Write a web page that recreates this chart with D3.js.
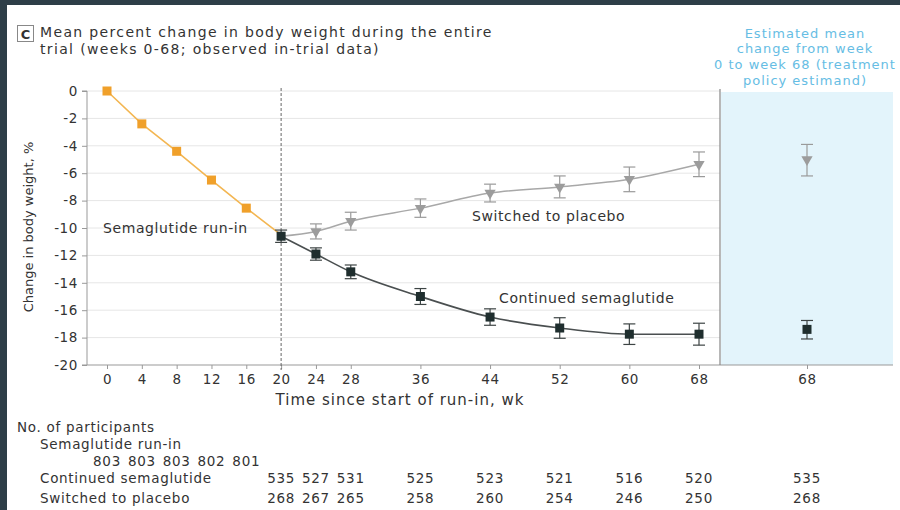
<!DOCTYPE html>
<html>
<head>
<meta charset="utf-8">
<script src="https://cdn.jsdelivr.net/npm/d3@7"></script>
<style>
  html, body { margin: 0; padding: 0; background: #fff; }
  svg { display: block; }
  text { font-family: "DejaVu Sans", Verdana, sans-serif; fill: #333; }
</style>
</head>
<body>
<svg id="chart" width="900" height="510"></svg>
<script>
// Run-in phase (all participants on semaglutide)
const runWeeks = [0, 4, 8, 12, 16, 20];
const runInMean = [0, -2.4, -4.4, -6.5, -8.55, -10.5];

// Randomized phase, weeks 20-68
const trialWeeks = [20, 24, 28, 36, 44, 52, 60, 68];
const contMean = [-10.6, -11.9, -13.2, -15.0, -16.5, -17.3, -17.75, -17.75];
const contErr = [0.45, 0.45, 0.5, 0.58, 0.6, 0.75, 0.75, 0.8];
const placMean = [-10.6, -10.25, -9.5, -8.55, -7.45, -7.0, -6.45, -5.35];
const placErr = [0.45, 0.55, 0.65, 0.67, 0.65, 0.8, 0.9, 0.9];

// Treatment policy estimand, week 0 to week 68
const estLabel = ["68"];
const estCont = { mean: -17.4, lo: -18.1, hi: -16.75 };
const estPlac = { mean: -5.0, lo: -6.2, hi: -3.9 };

// Axis ticks
const xTicks = [0, 4, 8, 12, 16, 20, 24, 28, 36, 44, 52, 60, 68];
const yTicks = [0, -2, -4, -6, -8, -10, -12, -14, -16, -18, -20];

// Numbers at risk
const nRunIn = [803, 803, 803, 802, 801];
const nCont = [535, 527, 531, 525, 523, 521, 516, 520];
const nPlac = [268, 267, 265, 258, 260, 254, 246, 250];
const nEst = { cont: 535, plac: 268 };

const svg = d3.select("#chart");

const x = d3.scaleLinear().domain([0, 68]).range([107, 699]);
const y = d3.scaleLinear().domain([-20, 0]).range([365, 91]);
const xEst = d3.scalePoint().domain(estLabel).range([721, 893]).padding(0.5);

const plotLeft = 87, plotRight = 720, panelRight = 893;

// frame edges
svg.append("rect").attr("x", 0).attr("y", 0).attr("width", 900).attr("height", 5).attr("fill", "#2e3e48");
svg.append("rect").attr("x", 0).attr("y", 0).attr("width", 7).attr("height", 510).attr("fill", "#2e3e48");

// estimand panel background
svg.append("rect")
  .attr("x", plotRight + 1).attr("y", 92)
  .attr("width", panelRight - plotRight - 1).attr("height", y(-20) - 92)
  .attr("fill", "#e3f4fb");

// gridlines
svg.append("g").selectAll("line")
  .data(yTicks.filter(d => d > -20))
  .join("line")
  .attr("x1", plotLeft).attr("x2", plotRight)
  .attr("y1", d => y(d)).attr("y2", d => y(d))
  .attr("stroke", "#e6e6e6").attr("stroke-width", 1);

// y axis
const yAxis = svg.append("g")
  .attr("transform", `translate(${plotLeft},0)`)
  .call(d3.axisLeft(y).tickValues(yTicks).tickSize(5).tickFormat(d => d === 0 ? "0" : "-" + Math.abs(d)));
yAxis.select(".domain").attr("stroke", "#999").attr("d", `M-5,${y(0)}H0V${y(-20)}H-5`);
yAxis.selectAll(".tick line").attr("stroke", "#999");
yAxis.selectAll(".tick text").attr("x", -9).attr("font-size", 13.5).attr("fill", "#333")
  .attr("font-family", "DejaVu Sans").attr("letter-spacing", 0.6);

// x axis (main)
const xAxis = svg.append("g")
  .attr("transform", `translate(0,${y(-20)})`)
  .call(d3.axisBottom(x).tickValues(xTicks).tickSize(4));
xAxis.select(".domain").attr("stroke", "#999").attr("d", `M${plotLeft},0H${panelRight}`);
xAxis.selectAll(".tick line").attr("stroke", "#999");
xAxis.selectAll(".tick text").attr("y", 9).attr("font-size", 13.5).attr("fill", "#333")
  .attr("font-family", "DejaVu Sans").attr("letter-spacing", 0.6);

// x axis (estimand panel)
const xAxis2 = svg.append("g")
  .attr("transform", `translate(0,${y(-20)})`)
  .call(d3.axisBottom(xEst).tickSize(4));
xAxis2.select(".domain").remove();
xAxis2.selectAll(".tick line").attr("stroke", "#999");
xAxis2.selectAll(".tick text").attr("y", 9).attr("font-size", 13.5).attr("fill", "#333")
  .attr("font-family", "DejaVu Sans").attr("letter-spacing", 0.6);

// panel divider
svg.append("line")
  .attr("x1", plotRight).attr("x2", plotRight)
  .attr("y1", 89).attr("y2", y(-20))
  .attr("stroke", "#888").attr("stroke-width", 1.2);

// randomization marker at week 20
svg.append("line")
  .attr("x1", x(20)).attr("x2", x(20))
  .attr("y1", 88).attr("y2", y(-20) + 5)
  .attr("stroke", "#666").attr("stroke-width", 1)
  .attr("stroke-dasharray", "3,2");

// axis titles
svg.append("text")
  .attr("transform", `translate(33,${(y(0) + y(-20)) / 2 - 1}) rotate(-90)`)
  .attr("text-anchor", "middle")
  .attr("font-size", 13)
  .attr("font-family", "DejaVu Sans Condensed, DejaVu Sans")
  .text("Change in body weight, %");

svg.append("text")
  .attr("x", 400).attr("y", 405)
  .attr("text-anchor", "middle")
  .attr("font-size", 15)
  .attr("letter-spacing", 1)
  .text("Time since start of run-in, wk");

// title
svg.append("rect").attr("x", 17.5).attr("y", 25.5).attr("width", 16).attr("height", 16)
  .attr("fill", "#fff").attr("stroke", "#888");
svg.append("text").attr("x", 25.5).attr("y", 39).attr("text-anchor", "middle")
  .attr("font-size", 13).attr("font-weight", "bold").text("C");
const title = svg.append("g").attr("font-size", 14).attr("letter-spacing", 1.35);
title.append("text").attr("x", 40).attr("y", 37)
  .text("Mean percent change in body weight during the entire");
title.append("text").attr("x", 40).attr("y", 53.5)
  .text("trial (weeks 0-68; observed in-trial data)");

// estimand caption
const capLines = ["Estimated mean", "change from week", "0 to week 68 (treatment", "policy estimand)"];
svg.append("text")
  .attr("text-anchor", "middle")
  .attr("font-size", 13)
  .attr("letter-spacing", 1)
  .style("fill", "#66bde4")
  .selectAll("tspan")
  .data(capLines)
  .join("tspan")
  .attr("x", xEst("68") - 2)
  .attr("y", (d, i) => 37.5 + i * 15.7)
  .text(d => d);

// lines
const line = d3.line().x(d => x(d[0])).y(d => y(d[1]));

svg.append("path")
  .datum(runWeeks.map((w, i) => [w, runInMean[i]]))
  .attr("d", line).attr("fill", "none")
  .attr("stroke", "#f3b652").attr("stroke-width", 1.6);

svg.append("path")
  .datum(trialWeeks.map((w, i) => [w, placMean[i]]))
  .attr("d", d3.line().curve(d3.curveMonotoneX).x(d => x(d[0])).y(d => y(d[1])))
  .attr("fill", "none").attr("stroke", "#a8a8a8").attr("stroke-width", 1.5);

svg.append("path")
  .datum(trialWeeks.map((w, i) => [w, contMean[i]]))
  .attr("d", d3.line().curve(d3.curveMonotoneX).x(d => x(d[0])).y(d => y(d[1])))
  .attr("fill", "none").attr("stroke", "#4a4f50").attr("stroke-width", 1.6);

// error bars
function errorBars(g, pts, color) {
  const eb = g.append("g").selectAll("g").data(pts).join("g").attr("stroke", color).attr("stroke-width", 1.2);
  eb.append("line").attr("x1", d => d.x).attr("x2", d => d.x).attr("y1", d => y(d.lo)).attr("y2", d => y(d.hi));
  eb.append("line").attr("x1", d => d.x - 6).attr("x2", d => d.x + 6).attr("y1", d => y(d.lo)).attr("y2", d => y(d.lo));
  eb.append("line").attr("x1", d => d.x - 6).attr("x2", d => d.x + 6).attr("y1", d => y(d.hi)).attr("y2", d => y(d.hi));
}

const placPts = trialWeeks.map((w, i) => ({ x: x(w), m: placMean[i], lo: placMean[i] - placErr[i], hi: placMean[i] + placErr[i] }));
const contPts = trialWeeks.map((w, i) => ({ x: x(w), m: contMean[i], lo: contMean[i] - contErr[i], hi: contMean[i] + contErr[i] }));
placPts.push({ x: xEst("68"), m: estPlac.mean, lo: estPlac.lo, hi: estPlac.hi });
contPts.push({ x: xEst("68"), m: estCont.mean, lo: estCont.lo, hi: estCont.hi });

errorBars(svg, placPts.slice(1), "#9a9a9a");
errorBars(svg, contPts, "#3d4444");

// markers
const tri = d3.symbol().type(d3.symbolTriangle).size(55);
svg.append("g").selectAll("path")
  .data(placPts.slice(1))
  .join("path")
  .attr("d", tri)
  .attr("transform", d => `translate(${d.x},${y(d.m)}) rotate(180)`)
  .attr("fill", "#9c9c9c");

svg.append("g").selectAll("rect")
  .data(contPts)
  .join("rect")
  .attr("x", d => d.x - 4.5).attr("y", d => y(d.m) - 4.5)
  .attr("width", 9).attr("height", 9)
  .attr("fill", "#1f2e2e");

svg.append("g").selectAll("rect")
  .data(runWeeks.slice(0, -1).map((w, i) => ({ x: x(w), m: runInMean[i] })))
  .join("rect")
  .attr("x", d => d.x - 4.5).attr("y", d => y(d.m) - 4.5)
  .attr("width", 9).attr("height", 9)
  .attr("fill", "#f0a02a");

// series labels
const lab = svg.append("g").attr("font-size", 14).attr("letter-spacing", 0.6);
lab.append("text").attr("x", 103).attr("y", 233).text("Semaglutide run-in");
lab.append("text").attr("x", 472).attr("y", 221).text("Switched to placebo");
lab.append("text").attr("x", 499).attr("y", 303).text("Continued semaglutide");

// numbers at risk
const tbl = svg.append("g").attr("font-size", 13.5).attr("letter-spacing", 0.7);
tbl.append("text").attr("x", 17).attr("y", 432).text("No. of participants");
tbl.append("text").attr("x", 40).attr("y", 449).text("Semaglutide run-in");
tbl.append("text").attr("x", 40).attr("y", 483).text("Continued semaglutide");
tbl.append("text").attr("x", 40).attr("y", 503).text("Switched to placebo");

tbl.append("g").selectAll("text").data(nRunIn).join("text")
  .attr("x", (d, i) => x(runWeeks[i])).attr("y", 466).attr("text-anchor", "middle").text(d => d);
tbl.append("g").selectAll("text").data(nCont).join("text")
  .attr("x", (d, i) => x(trialWeeks[i])).attr("y", 483).attr("text-anchor", "middle").text(d => d);
tbl.append("g").selectAll("text").data(nPlac).join("text")
  .attr("x", (d, i) => x(trialWeeks[i])).attr("y", 503).attr("text-anchor", "middle").text(d => d);
tbl.append("text").attr("x", xEst("68")).attr("y", 483).attr("text-anchor", "middle").text(nEst.cont);
tbl.append("text").attr("x", xEst("68")).attr("y", 503).attr("text-anchor", "middle").text(nEst.plac);
</script>
</body>
</html>
